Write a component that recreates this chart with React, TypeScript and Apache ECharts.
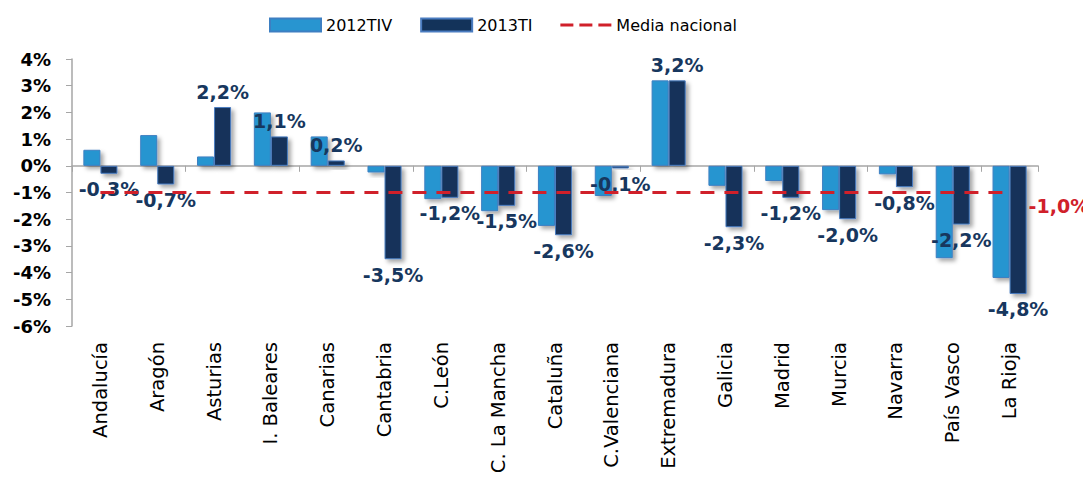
import React, { useEffect, useRef } from "react";
import * as echarts from "echarts";

const categories = [
  "Andalucía", "Aragón", "Asturias", "I. Baleares", "Canarias", "Cantabria",
  "C.León", "C. La Mancha", "Cataluña", "C.Valenciana", "Extremadura",
  "Galicia", "Madrid", "Murcia", "Navarra", "País Vasco", "La Rioja",
];
const s2012TIV = [0.6, 1.15, 0.35, 2.0, 1.1, -0.25, -1.25, -1.7, -2.25, -1.13, 3.2, -0.75, -0.57, -1.66, -0.32, -3.46, -4.2];
const s2013TI = [-0.3, -0.7, 2.2, 1.1, 0.2, -3.5, -1.2, -1.5, -2.6, -0.1, 3.2, -2.3, -1.2, -2.0, -0.8, -2.2, -4.8];
const mediaNacional = [-1.0, -1.0, -1.0, -1.0, -1.0, -1.0, -1.0, -1.0, -1.0, -1.0, -1.0, -1.0, -1.0, -1.0, -1.0, -1.0, -1.0];
const yTicks = { min: -6, max: 4, interval: 1 };

const FONT = "DejaVu Sans";
const fmt = (v: number) => v.toFixed(1).replace(".", ",") + "%";

export default function App() {
  const ref = useRef<HTMLDivElement>(null);
  useEffect(() => {
    if (!ref.current) return;
    const chart = echarts.init(ref.current, undefined, { renderer: "svg" });
    const shadow = {
      shadowBlur: 4,
      shadowOffsetX: 3,
      shadowOffsetY: 3,
      shadowColor: "rgba(0,0,0,0.35)",
    };
    chart.setOption({
      animation: false,
      textStyle: { fontFamily: FONT },
      legend: {
        left: 264,
        top: 12,
        itemWidth: 51,
        itemHeight: 13,
        itemGap: 28,
        textStyle: { fontFamily: FONT, fontSize: 16, color: "#000" },
        data: [
          { name: "2012TIV", icon: "rect" },
          { name: "2013TI", icon: "rect" },
          {
            name: "Media nacional",
            icon: "path://M0,0H13V3H0Z M19,0H32V3H19Z M38,0H51V3H38Z",
            itemStyle: { color: "#d0202a", borderWidth: 0 },
          },
        ],
      },
      grid: { left: 72, right: 53, top: 59, bottom: 154, containLabel: false },
      xAxis: [
        {
          type: "category",
          data: categories,
          position: "bottom",
          axisLine: { show: false, onZero: false },
          axisTick: { show: false },
          axisLabel: {
            rotate: 90,
            margin: 16,
            fontFamily: FONT,
            fontSize: 19.5,
            color: "#000",
            interval: 0,
          },
        },
        {
          type: "category",
          data: categories,
          position: "top",
          axisLine: { show: true, onZero: true, lineStyle: { color: "#a6a6a6", width: 1.5 } },
          axisTick: { show: true, inside: true, length: 6, lineStyle: { color: "#a6a6a6" } },
          axisLabel: { show: false },
        },
      ],
      yAxis: {
        type: "value",
        min: yTicks.min,
        max: yTicks.max,
        interval: yTicks.interval,
        splitLine: { show: false },
        axisLine: { show: true, lineStyle: { color: "#a6a6a6", width: 1.5 } },
        axisTick: { show: true, length: 6, lineStyle: { color: "#a6a6a6" } },
        axisLabel: {
          formatter: (v: number) => `${v}%`,
          fontFamily: FONT,
          fontSize: 18,
          fontWeight: "bold",
          color: "#000",
          margin: 21,
        },
      },
      series: [
        {
          name: "2012TIV",
          type: "bar",
          xAxisIndex: 0,
          data: s2012TIV,
          barGap: "0%",
          barCategoryGap: "40%",
          itemStyle: { color: "#2895d0", borderColor: "#3d7fc2", borderWidth: 1, ...shadow },
          z: 2,
        },
        {
          name: "2013TI",
          type: "bar",
          xAxisIndex: 0,
          data: s2013TI.map((v) => ({
            value: v,
            label: { position: v >= 0 ? "top" : "bottom" },
          })),
          barGap: "0%",
          barCategoryGap: "40%",
          itemStyle: { color: "#13335a", borderColor: "#4a7cc0", borderWidth: 1, ...shadow },
          label: {
            show: true,
            distance: 6,
            formatter: (p: any) => fmt(p.value),
            fontFamily: FONT,
            fontSize: 19,
            fontWeight: "bold",
            color: "#17375e",
          },
          z: 3,
        },
        {
          name: "Media nacional",
          type: "line",
          xAxisIndex: 0,
          data: mediaNacional,
          symbol: "none",
          lineStyle: { color: "#d0202a", width: 3, type: [14, 10] },
          itemStyle: { color: "#d0202a" },
          endLabel: {
            show: true,
            formatter: (p: any) => fmt(p.value),
            fontFamily: FONT,
            fontSize: 19,
            fontWeight: "bold",
            color: "#d0202a",
            offset: [11, 13],
          },
          z: 5,
        },
      ],
    });
    return () => chart.dispose();
  }, []);
  return <div ref={ref} style={{ width: 1091, height: 480, margin: -8 }} />;
}
